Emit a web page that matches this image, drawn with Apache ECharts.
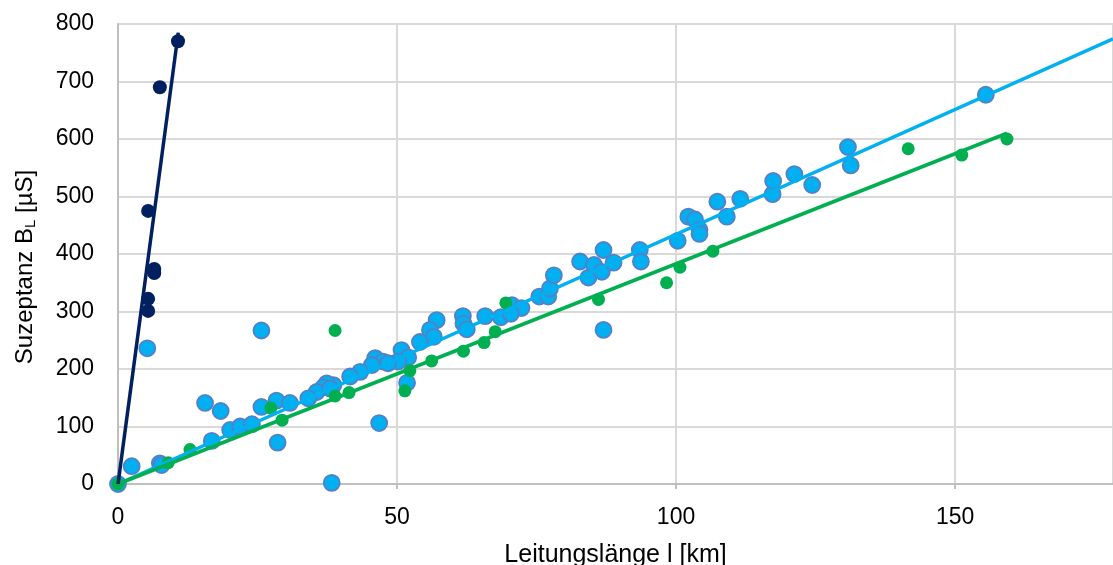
<!DOCTYPE html>
<html>
<head>
<meta charset="utf-8">
<script src="https://cdn.jsdelivr.net/npm/echarts@6/dist/echarts.min.js"></script>
<style>
  html, body { margin: 0; padding: 0; background: #fff; }
  #chart { width: 1113px; height: 565px; }
</style>
</head>
<body>
<div id="chart"></div>
<script>
// Messpunkte [Länge km, Suzeptanz µS]
var navyPts = [
  [10.75, 770], [7.5, 690], [5.4, 475], [6.5, 374], [6.5, 367], [5.4, 322], [5.4, 301]
];
var cyanPts = [
  [0, 0], [2.45, 31], [7.5, 36], [7.8, 33], [5.25, 236], [25.7, 267], [15.6, 141], [18.4, 127],
  [25.7, 134], [28.4, 145], [28.6, 72], [16.8, 75], [20.1, 94], [21.9, 100], [24, 104], [30.8, 141],
  [38.3, 2], [46.8, 106], [51.8, 176], [57.1, 285], [55.9, 268], [56.6, 256], [54.1, 247],
  [50.8, 233], [52.0, 220], [50.2, 213], [46.1, 219], [47.5, 213], [48.4, 210], [45.5, 207],
  [43.4, 195], [41.6, 187], [38.6, 172], [37.4, 175], [36.8, 168], [35.6, 160], [34.1, 149],
  [38, 166], [61.8, 292], [61.9, 279], [62.5, 269], [65.8, 292], [68.6, 290], [70.6, 311],
  [72.3, 306], [70.4, 296], [75.5, 326], [77.1, 326], [77.4, 340], [78.1, 363], [82.8, 387],
  [84.3, 359], [85.3, 381], [87.0, 407], [86.7, 369], [88.8, 385], [87.0, 268], [93.5, 407],
  [93.7, 387], [100.3, 423], [102.2, 465], [103.4, 460], [104.2, 442], [104.2, 435], [107.4, 491],
  [109.1, 465], [111.5, 496], [117.3, 504], [117.4, 527], [121.2, 539], [124.4, 520], [130.8, 586],
  [131.3, 554], [155.5, 677]
];
var greenPts = [
  [0, 0], [9.0, 37], [12.9, 60], [27.4, 132], [29.4, 111], [38.9, 267], [38.9, 153], [41.4, 159],
  [52.3, 197], [51.4, 162], [56.2, 214], [61.9, 231], [65.6, 246], [67.6, 265], [69.5, 315],
  [86.1, 321], [98.3, 350], [100.7, 377], [106.6, 405], [141.6, 583], [151.2, 572], [159.3, 600]
];
// Trendlinien (Anfangs- und Endpunkt)
var navyTrend = [[0, 0], [10.8, 785]];
var cyanTrend = [[0, 0], [178.3, 774]];
var greenTrend = [[0, 0], [159.3, 610]];

var xTicks = { min: 0, max: 178.3, step: 50 };
var yTicks = { min: 0, max: 800, step: 100 };

var FONT = 'Liberation Sans, Arial, sans-serif';
var chart = echarts.init(document.getElementById('chart'));

function scatter(data, color, size, border) {
  return {
    type: 'scatter',
    data: data,
    symbolSize: size,
    itemStyle: { color: color, borderColor: border || color, borderWidth: border ? 1.8 : 0, opacity: 1 },
    z: 2,
    silent: true
  };
}
function trend(data, color) {
  return {
    type: 'line',
    data: data,
    symbol: 'none',
    lineStyle: { color: color, width: 3.5 },
    z: 5,
    silent: true
  };
}

chart.setOption({
  animation: false,
  grid: { left: 118, right: 0, top: 24, bottom: 81, containLabel: false, outerBoundsMode: 'none' },
  xAxis: {
    type: 'value',
    min: xTicks.min, max: xTicks.max, interval: xTicks.step,
    name: 'Leitungslänge l [km]',
    nameLocation: 'middle',
    nameGap: 59,
    nameTextStyle: { fontFamily: FONT, fontSize: 25, color: '#000' },
    axisLine: { show: true, lineStyle: { color: '#bfbfbf', width: 2 } },
    axisTick: { show: true, length: 5, lineStyle: { color: '#bfbfbf', width: 2 } },
    axisLabel: { fontFamily: FONT, fontSize: 23, color: '#000', margin: 22, showMaxLabel: false },
    splitLine: { show: true, lineStyle: { color: '#d9d9d9', width: 2 } }
  },
  yAxis: {
    type: 'value',
    min: yTicks.min, max: yTicks.max, interval: yTicks.step,
    name: '{a|Suzeptanz B}{s|L}{a| [µS]}',
    nameLocation: 'middle',
    nameGap: 80,
    nameRotate: 90,
    nameTextStyle: {
      padding: [0, 26, 0, 0],
      rich: {
        a: { fontFamily: FONT, fontSize: 24, color: '#000' },
        s: { fontFamily: FONT, fontSize: 15, color: '#000', verticalAlign: 'bottom', padding: [10, 0, 0, 0] }
      }
    },
    axisLine: { show: true, lineStyle: { color: '#bfbfbf', width: 2 } },
    axisTick: { show: false },
    axisLabel: { fontFamily: FONT, fontSize: 23, color: '#000', margin: 24 },
    splitLine: { show: true, lineStyle: { color: '#d9d9d9', width: 2 } }
  },
  series: [
    scatter(cyanPts, '#00B0F0', 16, '#5580C8'),
    scatter(greenPts, '#00B050', 13),
    scatter(navyPts, '#002060', 14),
    trend(cyanTrend, '#00B0F0'),
    trend(greenTrend, '#00B050'),
    trend(navyTrend, '#002060')
  ]
});
</script>
</body>
</html>
